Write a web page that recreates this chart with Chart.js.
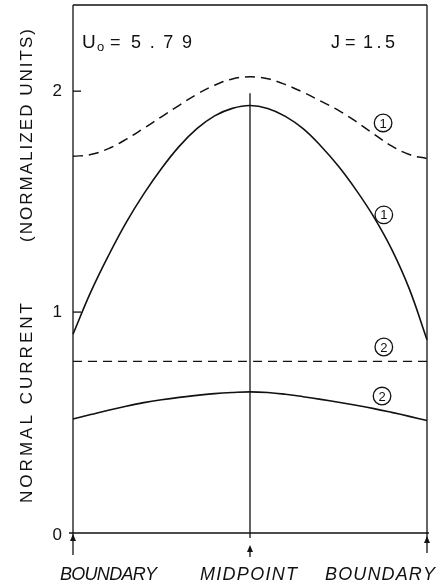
<!DOCTYPE html>
<html><head><meta charset="utf-8">
<script src="https://cdn.jsdelivr.net/npm/chart.js@4.4.0/dist/chart.umd.min.js"></script>
<style>html,body{margin:0;padding:0;background:#fff;}#wrap{width:438px;height:588px;position:relative;}</style>
</head><body><div id="wrap"><canvas id="c" width="438" height="588"></canvas></div>
<script>
// Position along the strip: 0 = boundary, 0.5 = midpoint, 1 = boundary
const positions = [0,0.05,0.1,0.15,0.2,0.25,0.3,0.35,0.4,0.45,0.5,0.55,0.6,0.65,0.7,0.75,0.8,0.85,0.9,0.95,1];
const solid1  = [0.90,1.09,1.255,1.405,1.535,1.65,1.75,1.83,1.888,1.922,1.935,1.922,1.886,1.83,1.752,1.66,1.552,1.43,1.285,1.105,0.875];
const dashed1 = [1.705,1.713,1.74,1.782,1.832,1.884,1.936,1.986,2.027,2.055,2.065,2.056,2.03,1.995,1.955,1.913,1.862,1.806,1.752,1.713,1.695];
const solid2  = [0.516,0.536,0.556,0.574,0.59,0.603,0.614,0.623,0.631,0.636,0.639,0.636,0.628,0.617,0.605,0.592,0.578,0.563,0.546,0.528,0.509];
const dashed2 = [0.777,0.777,0.777,0.777,0.777,0.777,0.777,0.777,0.777,0.777,0.777,0.777,0.777,0.777,0.777,0.777,0.777,0.777,0.777,0.777,0.777];
const yTickValues = [0,1,2];
const yTickLabels = ['0','1','2'];
const xTickValues = [0,0.5,1];
const xTickLabels = ['BOUNDARY','MIDPOINT','BOUNDARY'];
const yTitleParts = ['NORMAL CURRENT','(NORMALIZED UNITS)'];
const curveLabels = ['1','1','2','2'];
const paramLabels = ['U','o','=','5.79','J','=','1.5'];

const INK = '#111';
const FONT = '"Liberation Sans", Arial, sans-serif';

function pts(arr){ return positions.map((x,i)=>({x:x, y:arr[i]})); }

function spaced(ctx, text, x, y, width){
  const chars = Array.from(text);
  const ws = chars.map(c=>ctx.measureText(c).width);
  const W = ws.reduce((a,b)=>a+b,0);
  const s = chars.length>1 ? (width-W)/(chars.length-1) : 0;
  let cx = x;
  chars.forEach((c,i)=>{ ctx.fillText(c,cx,y); cx += ws[i]+s; });
}

const decor = {
  id:'decor',
  afterDraw(chart){
    const ctx = chart.ctx, xs = chart.scales.x, ys = chart.scales.y, a = chart.chartArea;
    const L = xs.getPixelForValue(0), R = xs.getPixelForValue(1), M = xs.getPixelForValue(0.5);
    const Z = ys.getPixelForValue(0);
    ctx.save();
    ctx.strokeStyle = INK; ctx.fillStyle = INK; ctx.lineWidth = 1.3; ctx.setLineDash([]);
    const line=(x1,y1,x2,y2)=>{ctx.beginPath();ctx.moveTo(x1,y1);ctx.lineTo(x2,y2);ctx.stroke();};
    line(L, a.top, R, a.top);
    line(L, a.top, L, Z+22);
    line(R, a.top, R, Z+20);
    line(L-4, Z, R+2, Z);
    line(M, ys.getPixelForValue(1.99), M, Z+5);
    line(M, Z+17, M, Z+24);
    const arrow=(x,tip)=>{ctx.beginPath();ctx.moveTo(x,tip);ctx.lineTo(x-3,tip+7);ctx.lineTo(x+3,tip+7);ctx.closePath();ctx.fill();};
    arrow(L, Z+1); arrow(R, Z+3); arrow(M, Z+12);
    // inward ticks
    yTickValues.forEach(v=>{ if(v>0){ const y=ys.getPixelForValue(v); line(L,y,L+8,y);} });
    // y tick labels
    ctx.font = '17px '+FONT; ctx.textAlign='right'; ctx.textBaseline='middle';
    yTickValues.forEach((v,i)=>{ ctx.fillText(yTickLabels[i], L-11, ys.getPixelForValue(v)+(v===0?2:0)); });
    // x labels
    ctx.font = 'italic 18px '+FONT; ctx.textAlign='left'; ctx.textBaseline='alphabetic';
    const xl = [[-13,97],[-50,97],[-102,110]];
    xTickValues.forEach((v,i)=>{ const p = xs.getPixelForValue(v); spaced(ctx, xTickLabels[i], p+xl[i][0], 580, xl[i][1]); });
    // y title
    ctx.font = '17px '+FONT;
    ctx.save(); ctx.translate(32,503); ctx.rotate(-Math.PI/2); spaced(ctx, yTitleParts[0], 0, 0, 200); ctx.restore();
    ctx.save(); ctx.translate(32,242); ctx.rotate(-Math.PI/2); spaced(ctx, yTitleParts[1], 0, 0, 213); ctx.restore();
    // parameters
    ctx.font = '19px '+FONT; ctx.fillText(paramLabels[0], 82, 48);
    ctx.font = '13px '+FONT; ctx.fillText(paramLabels[1], 97, 51);
    ctx.font = '18px '+FONT;
    ctx.fillText(paramLabels[2], 110, 48);
    spaced(ctx, paramLabels[3], 131, 48, 61);
    ctx.fillText(paramLabels[4], 331, 48);
    ctx.fillText(paramLabels[5], 345, 48);
    spaced(ctx, paramLabels[6], 363, 48, 32);
    // circled curve labels
    const cl = [[0.876,1.856],[0.878,1.44],[0.878,0.842],[0.873,0.62]];
    ctx.lineWidth = 1.3; ctx.font = '13px '+FONT; ctx.textAlign='center'; ctx.textBaseline='middle';
    cl.forEach((c,i)=>{ const x=xs.getPixelForValue(c[0]), y=ys.getPixelForValue(c[1]);
      ctx.beginPath(); ctx.arc(x,y,8.8,0,Math.PI*2); ctx.stroke(); ctx.fillText(curveLabels[i], x, y+1); });
    ctx.restore();
  }
};

const ds = (arr, dash, w) => ({data: pts(arr), borderColor: INK, borderWidth: w, borderDash: dash, pointRadius: 0, fill: false, tension: 0.4, clip: false});

new Chart(document.getElementById('c'), {
  type: 'line',
  data: { datasets: [ ds(dashed1,[10,6],1.5), ds(solid1,[],1.6), ds(dashed2,[9,6],1.2), ds(solid2,[],1.6) ] },
  options: {
    responsive: false, animation: false, devicePixelRatio: 1,
    layout: { padding: { left: 73, right: 11, top: 5, bottom: 55 } },
    scales: {
      x: { type: 'linear', min: 0, max: 1, display: false },
      y: { type: 'linear', min: 0, max: 2.39, display: false }
    },
    plugins: { legend: { display: false }, tooltip: { enabled: false } }
  },
  plugins: [decor]
});
</script>
</body></html>
